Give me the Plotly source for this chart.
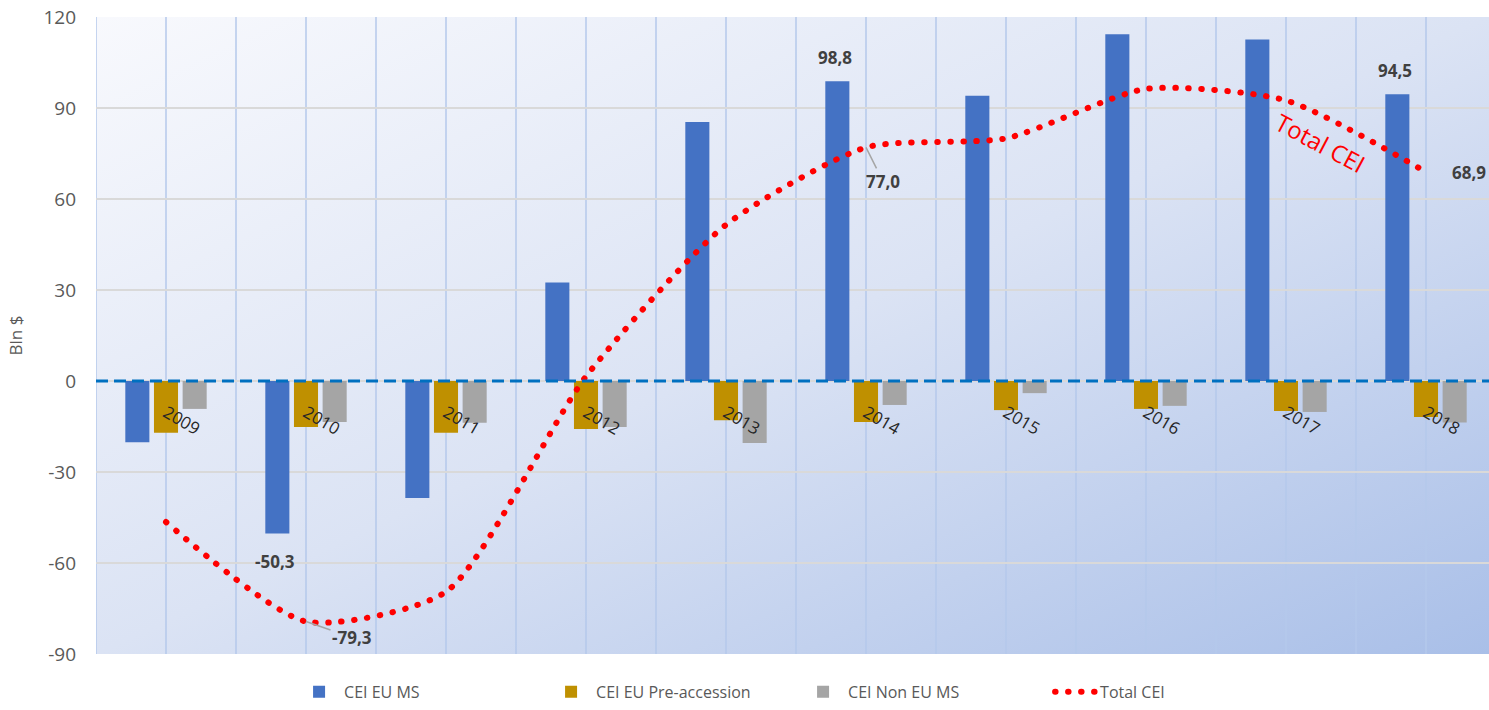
import base64
import plotly.graph_objects as go

years = ["2009", "2010", "2011", "2012", "2013", "2014", "2015", "2016", "2017", "2018"]
cei_eu_ms = [-20.2, -50.3, -38.6, 32.5, 85.4, 98.8, 94.0, 114.3, 112.6, 94.5]
cei_eu_pre = [-17.1, -15.2, -17.1, -15.8, -12.9, -13.5, -9.6, -9.2, -9.9, -11.9]
cei_non_eu = [-9.2, -13.5, -13.8, -15.2, -20.4, -7.9, -4.0, -8.2, -10.2, -13.7]
total_cei = [-46.5, -79.3, -69.5, 1.5, 51.5, 77.0, 80.0, 96.3, 92.5, 68.9]
y_ticks = [-90, -60, -30, 0, 30, 60, 90, 120]

FONT = "Open Sans, Liberation Sans, sans-serif"


def fmt(v):
    return f"{v:.1f}".replace(".", ",")


fig = go.Figure()
fig.add_trace(go.Bar(name="CEI EU MS", x=years, y=cei_eu_ms, marker_color="#4472C4",
                     marker_line_width=0))
fig.add_trace(go.Bar(name="CEI EU Pre-accession", x=years, y=cei_eu_pre, marker_color="#BF9000",
                     marker_line_width=0))
fig.add_trace(go.Bar(name="CEI Non EU MS", x=years, y=cei_non_eu, marker_color="#A5A5A5",
                     marker_line_width=0))
fig.add_trace(go.Scatter(name="Total CEI", x=years, y=total_cei, mode="lines",
                         line=dict(color="#FF0000", width=6, dash="0.5px,12.5px",
                                   shape="spline", smoothing=0.65)))

svg = ('<svg xmlns="http://www.w3.org/2000/svg" width="100" height="100" preserveAspectRatio="none">'
       '<defs><linearGradient id="g" x1="0" y1="0" x2="1" y2="1">'
       '<stop offset="0" stop-color="#f8f9fd"/><stop offset="0.5" stop-color="#dbe3f4"/>'
       '<stop offset="1" stop-color="#a9bfe8"/></linearGradient></defs>'
       '<rect width="100" height="100" fill="url(#g)"/></svg>')
src = "data:image/svg+xml;base64," + base64.b64encode(svg.encode()).decode()

shapes = []
for i in range(len(years) + 1):
    shapes.append(dict(type="line", xref="x", yref="y domain", x0=i - 0.5, x1=i - 0.5, y0=0, y1=1,
                       line=dict(color="rgba(180,200,235,0.75)", width=2), layer="below"))
shapes.append(dict(type="line", xref="x domain", yref="y", x0=0, x1=1, y0=0, y1=0,
                   line=dict(color="#0070C0", width=3, dash="12px,6px"), layer="above"))

lab_font = dict(family=FONT, size=17, color="#404040")
i14 = years.index("2014")
i18 = years.index("2018")
i10 = years.index("2010")
i17 = years.index("2017")
annotations = [
    dict(xref="x", yref="y", x=i14, y=cei_eu_ms[i14], text="<b>" + fmt(cei_eu_ms[i14]) + "</b>",
         showarrow=False, xshift=-31, yanchor="bottom", yshift=10, font=lab_font),
    dict(xref="x", yref="y", x=i18, y=cei_eu_ms[i18], text="<b>" + fmt(cei_eu_ms[i18]) + "</b>",
         showarrow=False, xshift=-31, yanchor="bottom", yshift=10, font=lab_font),
    dict(xref="x", yref="y", x=i10, y=cei_eu_ms[i10], text="<b>" + fmt(cei_eu_ms[i10]) + "</b>",
         showarrow=False, xshift=-31, yanchor="top", yshift=-14, font=lab_font),
    dict(xref="x", yref="y", x=i10, y=total_cei[i10], text="<b>" + fmt(total_cei[i10]) + "</b>",
         showarrow=True, arrowhead=0, arrowcolor="#A5A5A5", arrowwidth=1.5,
         ax=46, ay=16, font=lab_font),
    dict(xref="x", yref="y", x=i14, y=total_cei[i14], text="<b>" + fmt(total_cei[i14]) + "</b>",
         showarrow=True, arrowhead=0, arrowcolor="#A5A5A5", arrowwidth=1.5,
         ax=17, ay=34, font=lab_font),
    dict(xref="x", yref="y", x=i18, y=total_cei[i18], text="<b>" + fmt(total_cei[i18]) + "</b>",
         showarrow=False, xshift=43, font=lab_font),
    dict(xref="x", yref="y", x=i17, y=78.5, text="Total CEI", showarrow=False, xshift=34,
         textangle=28, font=dict(family=FONT, size=24, color="#FF0000")),
]

fig.update_layout(
    width=1489, height=710,
    margin=dict(l=96, r=0, t=17, b=56),
    paper_bgcolor="white", plot_bgcolor="rgba(0,0,0,0)",
    font=dict(family=FONT, color="#595959"),
    barmode="group", bargap=0.386, bargroupgap=0.16,
    images=[dict(source=src, xref="paper", yref="paper", x=0, y=1, sizex=1, sizey=1,
                 xanchor="left", yanchor="top", sizing="stretch", layer="below")],
    shapes=shapes,
    annotations=annotations,
    showlegend=True,
    legend=dict(orientation="h", x=0.504, xanchor="center",
                y=-0.086, yanchor="bottom",
                font=dict(family=FONT, size=16, color="#595959"),
                entrywidth=197, itemwidth=40, bgcolor="rgba(0,0,0,0)"),
    xaxis=dict(type="category", range=[-0.5, 9.45], anchor="free", position=90 / 210,
               showgrid=True, gridcolor="rgba(180,200,235,0.75)", gridwidth=2,
               showline=False, zeroline=False, ticks="", tickangle=30, ticklabelstandoff=18,
               tickfont=dict(family=FONT, size=17, color="#262626")),
    yaxis=dict(range=[-90, 120], tickvals=y_ticks, ticktext=[str(v) for v in y_ticks],
               showgrid=True, gridcolor="#d9d9d9", gridwidth=2,
               zeroline=False, showline=False, ticks="", ticklabelstandoff=19,
               tickfont=dict(family=FONT, size=19, color="#595959"),
               title=dict(text="Bln $", standoff=16, font=dict(family=FONT, size=17, color="#595959"))),
)

post = ("var s=document.createElement('style');"
        "s.textContent='.scatterlayer .js-line, .legendlines path{stroke-linecap:round !important}';"
        "document.head.appendChild(s);")
fig.write_html("out.html", post_script=post)
